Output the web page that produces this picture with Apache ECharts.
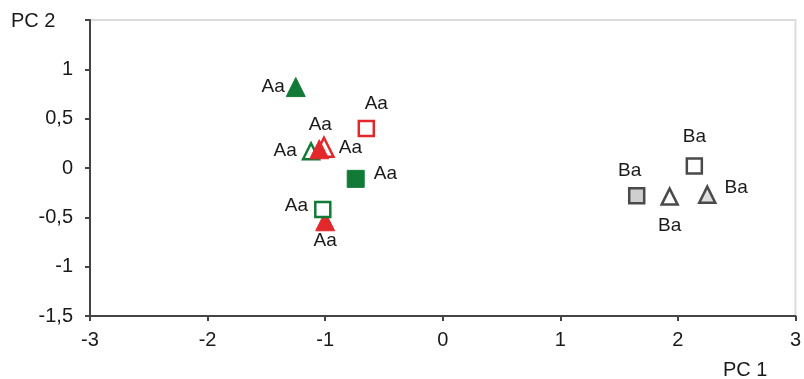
<!DOCTYPE html>
<html>
<head>
<meta charset="utf-8">
<script src="https://cdn.jsdelivr.net/npm/echarts@6/dist/echarts.min.js"></script>
<style>html,body{margin:0;padding:0;background:#fff}#c{width:804px;height:379px}</style>
</head>
<body>
<div id="c"></div>
<script>
// Data (PC1, PC2) per marker group
const greenFilledTri = [[-1.25, 0.82]];
const greenOpenTri   = [[-1.12, 0.17]];
const redFilledTri   = [[-1.05, 0.19], [-1.00, -0.54]];
const redOpenTri     = [[-1.01, 0.21]];
const redOpenSq      = [[-0.65, 0.40]];
const greenFilledSq  = [[-0.74, -0.11]];
const greenOpenSq    = [[-1.02, -0.42]];
const grayFilledSq   = [[1.65, -0.28]];
const grayOpenSq     = [[2.14, 0.02]];
const grayOpenTri    = [[1.93, -0.29]];
const grayLightTri   = [[2.25, -0.27]];

const labelsGreenFilledTri = ['Aa'];
const labelsGreenOpenTri   = ['Aa'];
const labelsRedFilledTri   = ['Aa', 'Aa'];
const labelsRedOpenTri     = ['Aa'];
const labelsRedOpenSq      = ['Aa'];
const labelsGreenFilledSq  = ['Aa'];
const labelsGreenOpenSq    = ['Aa'];
const labelsGrayFilledSq   = ['Ba'];
const labelsGrayOpenSq     = ['Ba'];
const labelsGrayOpenTri    = ['Ba'];
const labelsGrayLightTri   = ['Ba'];

const xTicks = [-3, -2, -1, 0, 1, 2, 3];
const yTicks = [-1.5, -1, -0.5, 0, 0.5, 1, 1.5];

const GREEN = '#127a37', RED = '#e3282b', GRAY = '#4a4a4a';
const FONT = '"Liberation Sans", Arial, sans-serif';
const FS = 20;

function items(vals, labels, labelOpts) {
  return vals.map((v, i) => ({ value: v, name: labels[i], label: Object.assign({ show: true }, labelOpts[i] || {}) }));
}
function mk(name, symbol, data, fill, border, bw, size) {
  return {
    type: 'scatter', name, symbol, symbolSize: size || 16, data,
    itemStyle: { color: fill, borderColor: border, borderWidth: bw, opacity: 1 },
    label: { show: true, formatter: p => p.name, color: '#1a1a1a', fontSize: 19, fontFamily: FONT },
    emphasis: { disabled: true }
  };
}

const chart = echarts.init(document.getElementById('c'), null, { renderer: 'canvas' });
chart.setOption({
  animation: false,
  backgroundColor: '#fff',
  title: [
    { text: 'PC 2', left: 6, top: 6, textStyle: { fontSize: FS, fontWeight: 'normal', color: '#1a1a1a', fontFamily: FONT } },
    { text: 'PC 1', left: 718, top: 355, textStyle: { fontSize: FS, fontWeight: 'normal', color: '#1a1a1a', fontFamily: FONT } }
  ],
  grid: { left: 90, right: 6, top: 20, bottom: 63, show: true, borderColor: '#dcdcdc', borderWidth: 2, backgroundColor: '#fff' },
  xAxis: {
    type: 'value', min: xTicks[0], max: xTicks[xTicks.length - 1], interval: 1,
    axisLine: { show: true, onZero: false, lineStyle: { color: '#444', width: 2 } },
    axisTick: { show: true, length: 5, lineStyle: { color: '#444', width: 2 } },
    axisLabel: { margin: 14, fontSize: FS, color: '#1a1a1a', fontFamily: FONT, formatter: v => String(v) },
    splitLine: { show: false }
  },
  yAxis: {
    type: 'value', min: yTicks[0], max: yTicks[yTicks.length - 1], interval: 0.5,
    axisLine: { show: true, onZero: false, lineStyle: { color: '#444', width: 2 } },
    axisTick: { show: true, length: 5, lineStyle: { color: '#444', width: 2 } },
    axisLabel: { margin: 17, fontSize: FS, color: '#1a1a1a', fontFamily: FONT,
      formatter: v => (v === yTicks[yTicks.length - 1] ? '' : String(v).replace('.', ',')) },
    splitLine: { show: false }
  },
  series: [
    mk('gft', 'triangle', items(greenFilledTri, labelsGreenFilledTri, [{ position: 'left', distance: 1 }]), GREEN, GREEN, 1, 19),
    mk('got', 'triangle', items(greenOpenTri, labelsGreenOpenTri, [{ position: 'left', distance: 5 }]), '#fff', GREEN, 2.5, 16),
    mk('rot', 'triangle', items(redOpenTri, labelsRedOpenTri, [{ position: 'right', distance: 4 }]), '#fff', RED, 2.5, 19),
    mk('rft', 'triangle', items(redFilledTri, labelsRedFilledTri, [{ position: 'top', distance: 5, offset: [1, 0] }, { position: 'bottom', distance: 0 }]), RED, RED, 1, 19),
    mk('ros', 'rect', items(redOpenSq, labelsRedOpenSq, [{ position: 'top', distance: 7, offset: [10, 0] }]), '#fff', RED, 2.5, 15),
    mk('gfs', 'rect', items(greenFilledSq, labelsGreenFilledSq, [{ position: 'right', distance: 9, offset: [0, -5] }]), GREEN, GREEN, 1, 17),
    mk('gos', 'rect', items(greenOpenSq, labelsGreenOpenSq, [{ position: 'left', distance: 6, offset: [0, -4] }]), '#fff', GREEN, 2.5, 15),
    mk('yfs', 'rect', items(grayFilledSq, labelsGrayFilledSq, [{ position: 'top', distance: 7, offset: [-7, 0] }]), '#cfcfcf', GRAY, 2.5, 15),
    mk('yos', 'rect', items(grayOpenSq, labelsGrayOpenSq, [{ position: 'top', distance: 11 }]), '#fff', GRAY, 2.5, 15),
    mk('yot', 'triangle', items(grayOpenTri, labelsGrayOpenTri, [{ position: 'bottom', distance: 10 }]), '#fff', GRAY, 2.5, 16),
    mk('ylt', 'triangle', items(grayLightTri, labelsGrayLightTri, [{ position: 'right', distance: 8, offset: [0, -7] }]), '#dedede', GRAY, 2.5, 16)
  ]
});
</script>
</body>
</html>
